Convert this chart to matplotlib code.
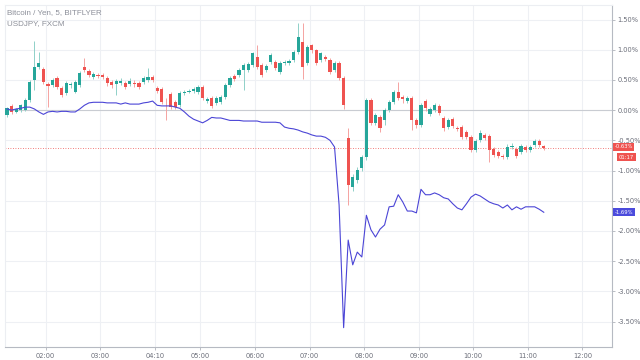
import matplotlib.pyplot as plt
import numpy as np

# Bitcoin / Yen 5-min candles, % change
btc_open = [-0.08, 0.07, -0.03, 0.00, 0.00, 0.17, 0.50, 0.71, 0.68, 0.43,
            0.41, 0.53, 0.36, 0.28, 0.41, 0.30, 0.41, 0.71, 0.64, 0.55,
            0.58, 0.58, 0.53, 0.46, 0.43, 0.45, 0.45, 0.43, 0.45, 0.45,
            0.46, 0.50, 0.55, 0.36, 0.35, 0.17, 0.26, 0.13, 0.08, 0.28,
            0.30, 0.31, 0.30, 0.38, 0.15, 0.20, 0.12, 0.13, 0.21, 0.41,
            0.56, 0.58, 0.66, 0.66, 0.74, 0.88, 0.74, 0.66, 0.79, 0.79,
            0.63, 0.78, 0.78, 0.83, 0.96, 1.12, 0.78, 1.07, 0.99, 0.83,
            0.88, 0.83, 0.66, 0.78, 0.53, -0.46, -1.27, -1.16, -0.96, -0.78,
            0.17, -0.21, -0.12, -0.17, 0.00, 0.13, 0.30, 0.21, 0.15, 0.20,
            -0.17, -0.25, 0.15, -0.07, 0.00, 0.07, -0.13, -0.28, -0.15, -0.30,
            -0.28, -0.36, -0.45, -0.66, -0.50, -0.41, -0.43, -0.64, -0.69, -0.76,
            -0.78, -0.61, -0.64, -0.69, -0.61, -0.66, -0.58, -0.51, -0.60]
btc_close = [0.03, -0.03, 0.02, 0.08, 0.17, 0.46, 0.71, 0.78, 0.46, 0.40,
             0.50, 0.38, 0.25, 0.45, 0.43, 0.46, 0.61, 0.66, 0.58, 0.60,
             0.56, 0.55, 0.45, 0.41, 0.48, 0.48, 0.38, 0.48, 0.43, 0.38,
             0.53, 0.55, 0.50, 0.31, 0.13, 0.16, 0.05, 0.05, 0.28, 0.30,
             0.31, 0.35, 0.38, 0.20, 0.18, 0.07, 0.20, 0.21, 0.41, 0.53,
             0.51, 0.66, 0.74, 0.76, 0.94, 0.71, 0.58, 0.73, 0.91, 0.69,
             0.78, 0.79, 0.81, 0.96, 1.21, 0.71, 1.04, 0.99, 0.78, 0.94,
             0.84, 0.63, 0.78, 0.53, 0.08, -1.24, -1.11, -0.99, -0.78, 0.17,
             -0.21, -0.08, -0.30, 0.00, 0.13, 0.30, 0.20, 0.18, 0.20, -0.17,
             -0.25, 0.08, 0.03, 0.02, 0.08, -0.05, -0.30, -0.17, -0.26, -0.31,
             -0.45, -0.45, -0.66, -0.51, -0.38, -0.46, -0.66, -0.74, -0.76, -0.78,
             -0.61, -0.61, -0.76, -0.60, -0.66, -0.61, -0.51, -0.58, -0.63]
btc_high = [0.05, 0.10, 0.04, 0.10, 0.20, 0.50, 1.15, 0.96, 0.71, 0.46,
            0.53, 0.56, 0.40, 0.48, 0.46, 0.50, 0.64, 0.86, 0.68, 0.63,
            0.61, 0.61, 0.56, 0.50, 0.51, 0.53, 0.48, 0.53, 0.50, 0.48,
            0.56, 0.69, 0.58, 0.40, 0.38, 0.20, 0.30, 0.17, 0.31, 0.33,
            0.35, 0.38, 0.41, 0.41, 0.21, 0.23, 0.23, 0.25, 0.45, 0.56,
            0.60, 0.69, 0.78, 0.79, 0.97, 1.07, 0.78, 0.76, 0.94, 0.83,
            0.81, 0.83, 0.84, 0.99, 1.44, 1.45, 1.08, 1.10, 1.02, 0.97,
            0.91, 0.86, 0.81, 0.81, 0.56, -0.30, -1.06, -0.94, -0.74, 0.20,
            0.20, -0.05, -0.08, 0.03, 0.17, 0.33, 0.46, 0.25, 0.23, 0.23,
            -0.13, 0.12, 0.18, 0.05, 0.12, 0.10, -0.10, -0.13, -0.12, -0.26,
            -0.25, -0.33, -0.41, -0.48, -0.33, -0.38, -0.40, -0.61, -0.66, -0.73,
            -0.56, -0.55, -0.61, -0.56, -0.58, -0.58, -0.48, -0.48, -0.58]
btc_low = [-0.12, -0.06, -0.05, -0.03, -0.02, 0.14, 0.33, 0.68, 0.43, 0.05,
           0.38, 0.35, 0.22, 0.25, 0.36, 0.28, 0.38, 0.63, 0.55, 0.51,
           0.53, 0.51, 0.40, 0.36, 0.25, 0.41, 0.35, 0.40, 0.38, 0.35,
           0.43, 0.46, 0.46, 0.28, 0.10, -0.17, 0.02, 0.02, 0.05, 0.25,
           0.28, 0.28, 0.26, 0.17, 0.12, 0.03, 0.08, 0.10, 0.18, 0.38,
           0.48, 0.55, 0.33, 0.63, 0.71, 0.68, 0.55, 0.63, 0.76, 0.66,
           0.60, 0.74, 0.74, 0.79, 0.93, 0.51, 0.74, 0.94, 0.74, 0.79,
           0.81, 0.60, 0.63, 0.50, 0.02, -1.57, -1.33, -1.20, -1.00, -0.83,
           -0.25, -0.25, -0.36, -0.25, -0.03, 0.10, 0.17, 0.12, 0.12, -0.33,
           -0.30, -0.28, -0.02, -0.10, -0.03, -0.08, -0.35, -0.31, -0.30, -0.35,
           -0.48, -0.48, -0.69, -0.69, -0.53, -0.50, -0.86, -0.78, -0.79, -0.81,
           -0.81, -0.64, -0.79, -0.73, -0.69, -0.69, -0.61, -0.61, -0.66]

# USDJPY, % change, same 5-min steps
usdjpy = [0.02, 0.00, 0.02, 0.03, 0.05, 0.05, 0.02, -0.03, -0.07, -0.03,
          -0.02, -0.03, -0.02, -0.02, -0.03, -0.03, 0.02, 0.08, 0.12, 0.13,
          0.13, 0.13, 0.12, 0.12, 0.12, 0.10, 0.12, 0.10, 0.10, 0.10,
          0.12, 0.13, 0.15, 0.08, 0.07, 0.07, 0.07, 0.05, 0.03, -0.03,
          -0.10, -0.15, -0.18, -0.21, -0.17, -0.12, -0.13, -0.13, -0.15, -0.17,
          -0.17, -0.17, -0.18, -0.18, -0.18, -0.18, -0.20, -0.20, -0.20, -0.20,
          -0.21, -0.28, -0.30, -0.31, -0.33, -0.36, -0.38, -0.41, -0.43, -0.43,
          -0.45, -0.50, -0.61, -1.57, -3.60, -2.15, -2.56, -2.35, -2.43, -1.74,
          -1.98, -2.10, -1.97, -1.90, -1.60, -1.59, -1.40, -1.52, -1.67, -1.67,
          -1.70, -1.31, -1.40, -1.40, -1.37, -1.40, -1.45, -1.47, -1.55, -1.62,
          -1.65, -1.55, -1.44, -1.39, -1.42, -1.47, -1.52, -1.55, -1.57, -1.62,
          -1.57, -1.65, -1.60, -1.64, -1.60, -1.60, -1.60, -1.64, -1.69]

tick_pos = [8.5, 20.5, 32.5, 42.5, 54.5, 66.5, 78.5, 90.5, 102.5, 114.5, 126.5]
tick_labels = ['02:00', '03:00', '04:10', '05:00', '06:00', '07:00',
               '08:00', '09:00', '10:00', '11:00', '12:00']
y_ticks = [1.5, 1.0, 0.5, 0.0, -0.5, -1.0, -1.5, -2.0, -2.5, -3.0, -3.5]

green = '#26a69a'
red = '#ef5350'
blue = '#4b45d6'

fig = plt.figure(figsize=(6.4, 3.6), dpi=100)
ax = fig.add_axes([5/640, 13/360, 607/640, 342/360])

o = np.array(btc_open)
c = np.array(btc_close)
x = np.arange(len(o))
up = c >= o
cols = np.where(up, green, red)
wick_cols = np.where(up, '#8fd0c8', '#f5a3a1')

ax.vlines(x, btc_low, btc_high, colors=wick_cols, linewidth=0.7, zorder=2)
ax.bar(x, np.maximum(np.abs(c - o), 0.015), bottom=np.minimum(o, c),
       width=0.7, color=cols, linewidth=0, zorder=3)

ax.plot(x, usdjpy, color=blue, linewidth=0.8, zorder=4)

ax.axhline(0, color='#c9ccd2', linewidth=0.8, zorder=1)
ax.axhline(btc_close[-1], color=red, linewidth=0.6, linestyle=(0, (1, 2)), zorder=1)

ax.set_xlim(-0.45, 133)
ax.set_ylim(-3.92, 1.74)
ax.set_xticks(tick_pos)
ax.set_xticklabels(tick_labels)
ax.set_yticks(y_ticks)
ax.set_yticklabels(['%.2f%%' % v for v in y_ticks])
ax.yaxis.tick_right()
ax.tick_params(axis='both', labelsize=4.8, labelcolor='#6a6d78', color='#b0b3ba',
               length=2, width=0.6, pad=2)
ax.grid(True, color='#eef0f4', linewidth=0.8, zorder=0)
ax.set_axisbelow(True)
for side in ['top', 'left']:
    ax.spines[side].set_color('#eceef2')
    ax.spines[side].set_linewidth(0.8)
for side in ['right', 'bottom']:
    ax.spines[side].set_color('#b6bac2')
    ax.spines[side].set_linewidth(0.8)

# price tags on the right scale
tag_style = dict(fontsize=3.8, color='white', ha='left', va='center',
                 transform=ax.get_yaxis_transform(), clip_on=False)
ax.text(1.004, btc_close[-1] + 0.02, '%.2f%%' % btc_close[-1],
        bbox=dict(boxstyle='square,pad=0.3', fc=red, ec='none'), **tag_style)
ax.text(1.011, btc_close[-1] - 0.15, '01:17',
        bbox=dict(boxstyle='square,pad=0.3', fc=red, ec='none'), **tag_style)
ax.text(1.004, usdjpy[-1], '%.2f%%' % usdjpy[-1],
        bbox=dict(boxstyle='square,pad=0.3', fc='#4b4bdc', ec='none'), **tag_style)

fig.text(7/640, 1 - 13/360, 'Bitcoin / Yen, 5, BITFLYER', fontsize=5.8,
         color='#8c8f99', family='Liberation Sans', va='center')
fig.text(7/640, 1 - 24/360, 'USDJPY, FXCM', fontsize=5.8,
         color='#8c8f99', family='Liberation Sans', va='center')

fig.savefig('out.png', dpi=100, facecolor='white')
